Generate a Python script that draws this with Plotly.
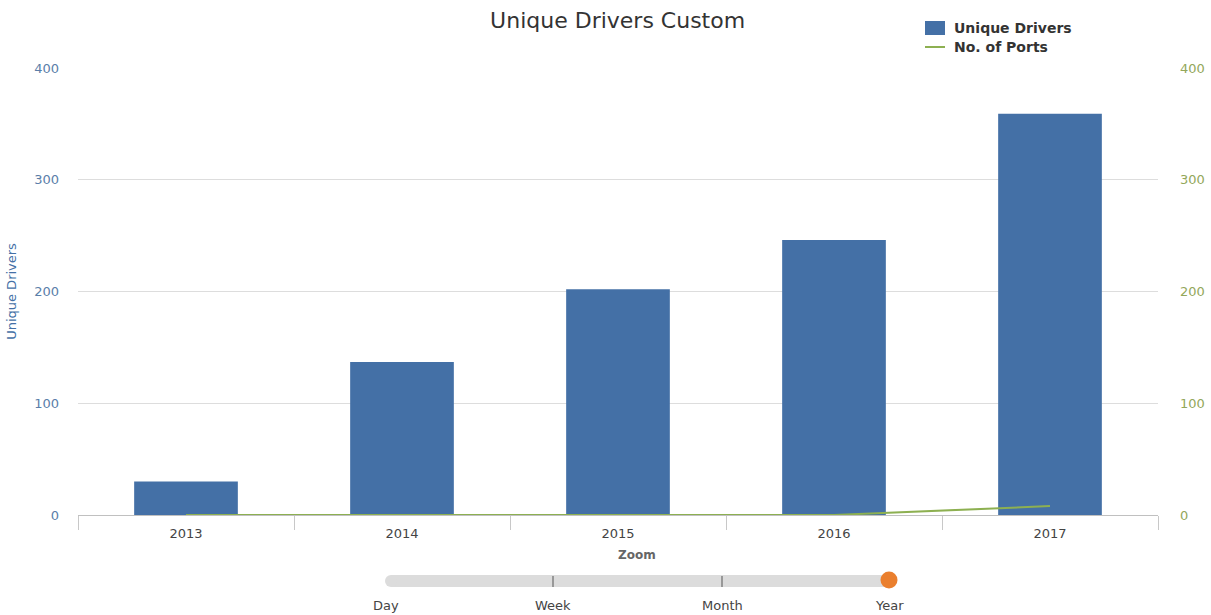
import plotly.graph_objects as go

# Yearly figures
years = ["2013", "2014", "2015", "2016", "2017"]
unique_drivers = [30, 137, 202, 246, 359]
no_of_ports = [0, 0, 0, 0, 8]

# Zoom control labels
zoom_levels = ["Day", "Week", "Month", "Year"]

BLUE = "#4470a6"
GREEN = "#8db051"
FONT = "DejaVu Sans"

# plot-area geometry in pixels (used to place the legend and zoom control)
L, R, T, B = 78, 1158, 68, 515
W, H = R - L, B - T


def px_x(x):
    return (x - L) / W


def px_y(y):
    return (B - y) / H


fig = go.Figure()
fig.add_trace(go.Bar(
    x=years, y=unique_drivers, name="Unique Drivers",
    marker=dict(color=BLUE, line=dict(width=0)), showlegend=False,
))
fig.add_trace(go.Scatter(
    x=years, y=no_of_ports, name="No. of Ports", yaxis="y2",
    mode="lines", line=dict(color=GREEN, width=2), showlegend=False,
))

shapes = []
annotations = []

# legend (top right)
shapes.append(dict(type="rect", xref="paper", yref="paper",
                   x0=px_x(925), x1=px_x(945), y0=px_y(21), y1=px_y(35),
                   fillcolor=BLUE, line=dict(width=0)))
shapes.append(dict(type="line", xref="paper", yref="paper",
                   x0=px_x(925), x1=px_x(945), y0=px_y(47), y1=px_y(47),
                   line=dict(color=GREEN, width=2)))
for text, ly in (("Unique Drivers", 28), ("No. of Ports", 47)):
    annotations.append(dict(text=f"<b>{text}</b>", xref="paper", yref="paper",
                            x=px_x(952), y=px_y(ly), xanchor="left", yanchor="middle",
                            showarrow=False,
                            font=dict(family=FONT, size=14, color="#333333")))

# slider track with rounded ends
track_y = 581
x_left, x_right = 391, 884
shapes.append(dict(type="rect", xref="paper", yref="paper",
                   x0=px_x(x_left), x1=px_x(x_right),
                   y0=px_y(track_y - 6), y1=px_y(track_y + 6),
                   fillcolor="#dcdcdc", line=dict(width=0), layer="above"))
for cx in (x_left, x_right):
    shapes.append(dict(type="circle", xref="paper", yref="paper",
                       xsizemode="pixel", ysizemode="pixel",
                       xanchor=px_x(cx), yanchor=px_y(track_y),
                       x0=-6, x1=6, y0=-6, y1=6,
                       fillcolor="#dcdcdc", line=dict(width=0), layer="above"))
# step marks on the track
for tx in (553, 722):
    shapes.append(dict(type="line", xref="paper", yref="paper",
                       x0=px_x(tx), x1=px_x(tx),
                       y0=px_y(576), y1=px_y(587),
                       line=dict(color="#555555", width=1), layer="above"))
# handle
shapes.append(dict(type="circle", xref="paper", yref="paper",
                   xsizemode="pixel", ysizemode="pixel",
                   xanchor=px_x(889), yanchor=px_y(580),
                   x0=-8.5, x1=8.5, y0=-8.5, y1=8.5,
                   fillcolor="#ea7f2e", line=dict(width=0), layer="above"))

annotations.append(dict(text="<b>Zoom</b>", xref="paper", yref="paper",
                        x=px_x(637), y=px_y(555), xanchor="center", yanchor="middle",
                        showarrow=False,
                        font=dict(family=FONT, size=12, color="#666666")))
for label, lx in zip(zoom_levels, (386, 553, 722, 889)):
    annotations.append(dict(text=label, xref="paper", yref="paper",
                            x=px_x(lx), y=px_y(605), xanchor="center", yanchor="middle",
                            showarrow=False,
                            font=dict(family=FONT, size=13, color="#444444")))

fig.update_layout(
    width=1211, height=615,
    margin=dict(l=L, r=1211 - R, t=T, b=615 - B),
    paper_bgcolor="white", plot_bgcolor="white",
    font=dict(family=FONT, color="#444444"),
    title=dict(text="Unique Drivers Custom", x=0.51, xanchor="center",
               y=1 - 20 / 615, yanchor="middle",
               font=dict(family=FONT, size=22, color="#333333")),
    bargap=0.52,
    showlegend=False,
    xaxis=dict(type="category", showgrid=False, showline=True, linecolor="#c0c0c0",
               ticks="outside", tickson="boundaries", ticklen=14, tickcolor="#c8c8c8",
               ticklabelstandoff=6, automargin=False,
               tickfont=dict(size=13, color="#444444"), fixedrange=True),
    yaxis=dict(range=[0, 400], dtick=100, showgrid=True, gridcolor="#dddddd",
               zeroline=False, showline=False, ticklabelstandoff=18, automargin=False,
               tickfont=dict(size=13, color="#5a7ea9"),
               title=dict(text="Unique Drivers", font=dict(size=13, color=BLUE), standoff=14)),
    yaxis2=dict(range=[0, 400], dtick=100, overlaying="y", side="right",
                showgrid=False, zeroline=False, showline=False, ticklabelstandoff=21,
                automargin=False,
                tickfont=dict(size=13, color="#93a75a")),
    shapes=shapes,
    annotations=annotations,
)

fig.write_html("out.html")
